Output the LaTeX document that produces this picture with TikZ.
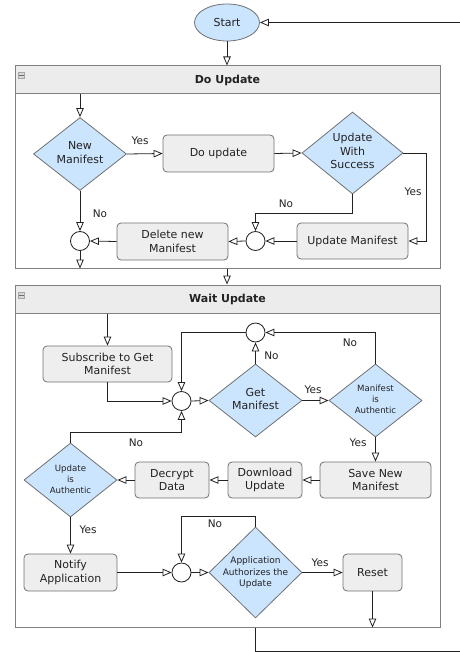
\documentclass[tikz,border=0pt]{standalone}
\usepackage{fontspec}
\setmainfont{DejaVu Sans}
\usetikzlibrary{arrows.meta,shapes.geometric}
\definecolor{dblue}{HTML}{CCE5FF}
\definecolor{boxgray}{HTML}{EEEEEE}
\definecolor{edgegray}{HTML}{707070}
\definecolor{hdrgray}{HTML}{ECECEC}
\definecolor{ink}{HTML}{222222}
\newcommand{\dtext}[1]{\makebox[0pt]{\smash{\raisebox{-2.5pt}{\begin{tabular}{@{}c@{}}#1\end{tabular}}}}}
\tikzset{
 every node/.style={text=ink},
 arr/.style={draw=ink, line width=0.8pt, -{Triangle[open,length=9pt,width=7.5pt]}},
 ln/.style={draw=ink, line width=0.8pt},
 procbox/.style={rectangle, rounded corners=4pt, draw=edgegray, fill=boxgray, line width=0.8pt, align=center, font=\fontsize{11}{13.5}\selectfont, inner sep=0pt},
 decis/.style={diamond, draw=edgegray, fill=dblue, line width=0.8pt, inner sep=0pt},
 bigt/.style={font=\fontsize{11}{13.5}\selectfont},
 smallt/.style={font=\fontsize{8.6}{11}\selectfont},
 merge/.style={circle, draw=ink, fill=white, line width=0.8pt, minimum size=19pt, inner sep=0pt},
 container/.style={rectangle, draw=gray, line width=1pt, inner sep=0pt},
 header/.style={rectangle, draw=gray, fill=hdrgray, line width=1pt, font=\bfseries\fontsize{11}{13}\selectfont, inner sep=0pt},
 lbl/.style={font=\fontsize{10.5}{12}\selectfont, inner sep=0pt},
 collapse/.style={rectangle, draw=gray!70, fill=gray!30, line width=0.6pt, minimum width=6.5pt, minimum height=6pt, inner sep=0pt},
}
\begin{document}
\begin{tikzpicture}[x=1pt,y=-1pt]
\useasboundingbox (0,0) rectangle (459,652);
% containers
\node[container, minimum width=425pt, minimum height=202pt] (doupd) at (227.5,167) {};
\node[header, minimum width=425pt, minimum height=28pt] (hdr1) at (227.5,80) {Do Update};
\node[container, minimum width=425pt, minimum height=342pt] (waitupd) at (227.5,456) {};
\node[header, minimum width=425pt, minimum height=28pt] (hdr2) at (227.5,299) {Wait Update};
\node[collapse] (col1) at (21.5,75.5) {};
\node[collapse] (col2) at (21.5,295) {};
\draw[gray!85!black, line width=0.6pt] ([xshift=1.3pt]col1.west) -- ([xshift=-1.3pt]col1.east);
\draw[gray!85!black, line width=0.6pt] ([xshift=1.3pt]col2.west) -- ([xshift=-1.3pt]col2.east);

% start
\node[ellipse, draw=edgegray, fill=dblue, line width=0.8pt, minimum width=65pt, minimum height=37pt, inner sep=0pt, bigt] (start) at (227,22.5) {Start};
\coordinate (inR) at (460,22.5);
\coordinate (outR) at (460,651);

% Do Update content
\node[decis, bigt, minimum width=93pt, minimum height=73pt] (nm) at (80,154) {\dtext{New\\Manifest}};
\node[procbox, minimum width=111pt, minimum height=37pt] (du) at (218.5,153.5) {Do update};
\node[decis, bigt, minimum width=101pt, minimum height=82pt] (uws) at (352.5,153) {\dtext{Update\\With\\Success}};
\node[procbox, minimum width=111pt, minimum height=36pt] (um) at (352.5,241) {Update Manifest};
\node[merge] (c2) at (255.5,241) {};
\node[procbox, minimum width=111pt, minimum height=37pt] (dnm) at (172.5,241.5) {Delete new\\Manifest};
\node[merge] (c1) at (80,241) {};

% Wait Update content
\node[procbox, minimum width=129pt, minimum height=36pt] (sub) at (107.5,364) {Subscribe to Get\\Manifest};
\node[merge] (c3) at (181.5,401) {};
\node[decis, bigt, minimum width=93pt, minimum height=73pt] (gm) at (255.5,400.5) {\dtext{Get\\Manifest}};
\node[decis, smallt, minimum width=93pt, minimum height=73pt] (ma) at (375.5,400.5) {\dtext{Manifest\\is\\Authentic}};
\node[merge] (c4) at (255.5,332.5) {};
\node[procbox, minimum width=111pt, minimum height=36pt] (snm) at (375.5,480) {Save New\\Manifest};
\node[procbox, minimum width=74pt, minimum height=36pt] (dl) at (265,480) {Download\\Update};
\node[procbox, minimum width=74pt, minimum height=36pt] (dec) at (172,480) {Decrypt\\Data};
\node[decis, smallt, minimum width=93pt, minimum height=74pt] (uia) at (70.5,480) {\dtext{Update\\is\\Authentic}};
\node[procbox, minimum width=93pt, minimum height=37pt] (na) at (70.5,572.5) {Notify\\Application};
\node[merge] (c5) at (181.5,572.5) {};
\node[decis, font=\fontsize{9}{11.7}\selectfont, minimum width=93pt, minimum height=91pt] (app) at (255.5,572.5) {\dtext{Application\\Authorizes the\\Update}};
\node[procbox, minimum width=59pt, minimum height=37pt] (rst) at (372.5,572.5) {Reset};

% connectors: outer
\draw[arr] (inR) -- (start.east);
\draw[arr] (start.south) -- (start |- doupd.north);
\draw[arr] (doupd.south -| start) -- (waitupd.north -| start);
\draw[ln] (waitupd.south -| app) |- (outR);

% Do Update connectors
\draw[arr] (hdr1.south -| nm) -- (nm.north);
\draw[arr] (nm.east) -- (du.west);
\draw[arr] (du.east) -- (uws.west);
\draw[arr] (uws.east) -- ++(23,0) |- (um.east);
\draw[arr] (uws.south) -- ++(0,19) -| (c2.north);
\draw[arr] (um.west) -- (c2.east);
\draw[arr] (c2.west) -- (dnm.east);
\draw[arr] (dnm.west) -- (c1.east);
\draw[arr] (nm.south) -- (c1.north);
\draw[arr] (c1.south) -- (c1 |- doupd.south);
\node[lbl] (l1) at (140,141) {Yes};
\node[lbl] (l2) at (413,192) {Yes};
\node[lbl] (l3) at (286,204) {No};
\node[lbl] (l4) at (100,214) {No};

% Wait Update connectors
\draw[arr] (hdr2.south -| sub) -- (sub.north);
\draw[arr] (sub.south) |- (c3.west);
\draw[arr] (c3.east) -- (gm.west);
\draw[arr] (gm.east) -- (ma.west);
\draw[arr] (gm.north) -- (c4.south);
\draw[arr] (ma.north) |- (c4.east);
\draw[arr] (c4.west) -| (c3.north);
\draw[arr] (ma.south) -- (snm.north);
\draw[arr] (snm.west) -- (dl.east);
\draw[arr] (dl.west) -- (dec.east);
\draw[arr] (dec.west) -- (uia.east);
\draw[arr] (uia.north) -- ++(0,-10) -| (c3.south);
\draw[arr] (uia.south) -- (na.north);
\draw[arr] (na.east) -- (c5.west);
\draw[arr] (c5.east) -- (app.west);
\draw[arr] (app.north) -- ++(0,-10.5) -| (c5.north);
\draw[arr] (app.east) -- (rst.west);
\draw[arr] (rst.south) -- (rst |- waitupd.south);
\node[lbl] (l5) at (313,389.5) {Yes};
\node[lbl] (l6) at (271.5,355.5) {No};
\node[lbl] (l7) at (350,343) {No};
\node[lbl] (l8) at (358,443) {Yes};
\node[lbl] (l9) at (136,443) {No};
\node[lbl] (l10) at (88,530) {Yes};
\node[lbl] (l11) at (215,524) {No};
\node[lbl] (l12) at (320,563) {Yes};
\end{tikzpicture}
\end{document}
